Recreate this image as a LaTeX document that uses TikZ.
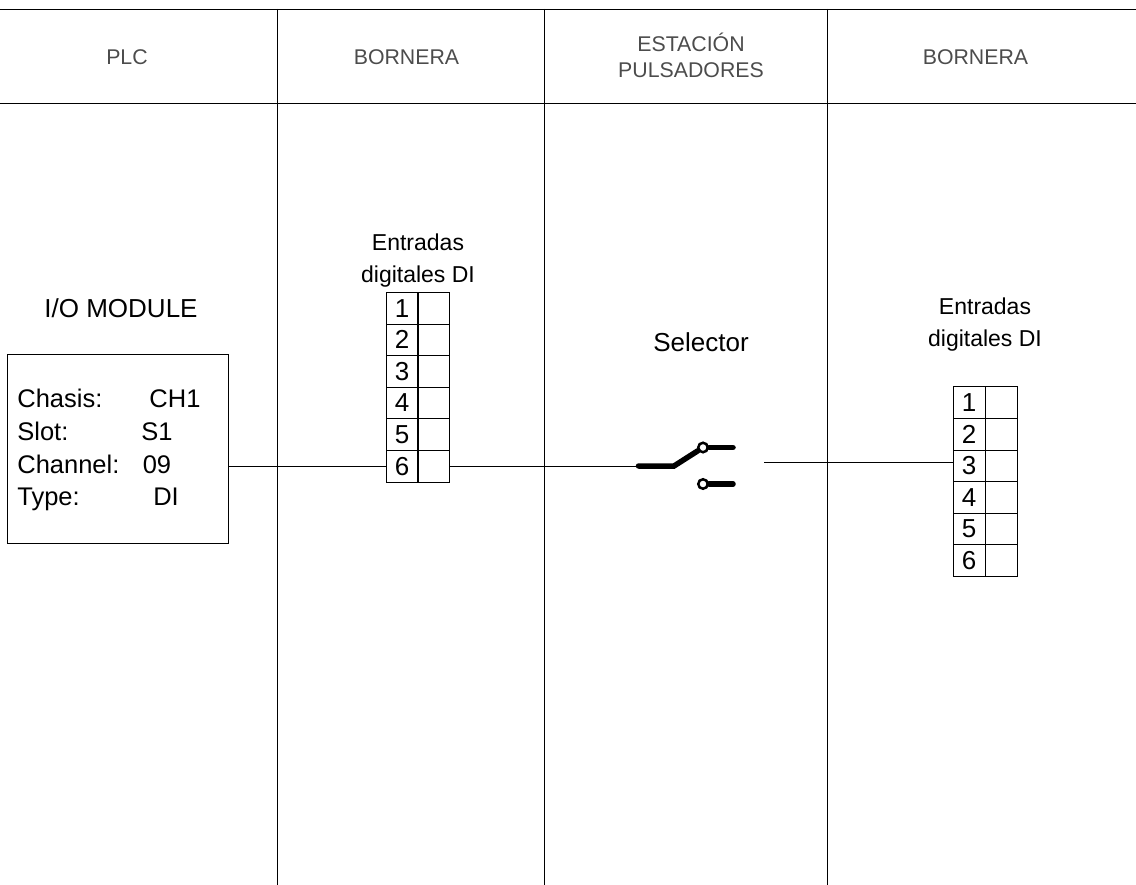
\documentclass[tikz,border=0pt]{standalone}
\usepackage{fontspec}
\setmainfont{Liberation Sans}
\begin{document}
\begin{tikzpicture}[x=1pt,y=-1pt,line width=0.75pt]
        \tikzstyle{header}=[font=\fontsize{21.3}{26}\selectfont, align=center, text=black!70]
        \tikzstyle{title}=[font=\fontsize{23}{32}\selectfont, align=center]
        \tikzstyle{bigtitle}=[font=\fontsize{26}{32}\selectfont, align=center]
        \tikzstyle{info}=[font=\fontsize{25.5}{28}\selectfont, inner sep=0pt]
        \tikzstyle{pin}=[draw, minimum width=32pt, minimum height=31.6pt, inner sep=0pt,
            font=\fontsize{26}{26}\selectfont]
        \tikzstyle{spare}=[draw, minimum width=32pt, minimum height=31.6pt, inner sep=0pt]
        \tikzstyle{contact}=[line width=5.5pt, line cap=round]
        \tikzstyle{tip}=[draw, circle, line width=2.5pt, fill=white, minimum size=9.5pt, inner sep=0pt]

        \useasboundingbox (0, 0) rectangle (1136, 885);

        \coordinate (hl) at (0, 9);
        \coordinate (hr) at (1136, 9);
        \coordinate (bl) at (0, 103);
        \coordinate (br) at (1136, 103);
        \draw (hl) to (hr);
        \draw (bl) to (br);

        \coordinate (c1t) at (277, 9);
        \coordinate (c1b) at (277, 885);
        \coordinate (c2t) at (544, 9);
        \coordinate (c2b) at (544, 885);
        \coordinate (c3t) at (827, 9);
        \coordinate (c3b) at (827, 885);
        \draw (c1t) to (c1b);
        \draw (c2t) to (c2b);
        \draw (c3t) to (c3b);

        \node[header] (plc) at (127, 57) {PLC};
        \node[header] (bor1) at (406.5, 57) {BORNERA};
        \node[header] (est) at (691, 55) {ESTACIÓN\\PULSADORES};
        \node[header] (bor2) at (975.5, 57) {BORNERA};

        \node[bigtitle] (iot) at (121, 308) {I/O MODULE};
        \node[draw, minimum width=221pt, minimum height=189pt, inner sep=0pt] (io) at (118, 449) {};
        \node[info, anchor=base west] (l1) at (17, 408) {Chasis:};
        \node[info, anchor=base west] (l2) at (17, 441) {Slot:};
        \node[info, anchor=base west] (l3) at (17, 473) {Channel:};
        \node[info, anchor=base west] (l4) at (17, 505) {Type:};
        \node[info, anchor=base] (v1) at (175, 408) {CH1};
        \node[info, anchor=base] (v2) at (157, 441) {S1};
        \node[info, anchor=base] (v3) at (157, 473) {09};
        \node[info, anchor=base] (v4) at (166, 505) {DI};

        \node[title] (ent1) at (418, 261) {Entradas\\digitales DI};
        \foreach \i in {1,...,6} {
            \node[pin] (a\i) at (402, 276.5+31.6*\i) {\i};
            \node[spare] (as\i) at (433.5, 276.5+31.6*\i) {};
        }

        \node[bigtitle] (sel) at (701, 342) {Selector};

        \node[title] (ent2) at (985, 325) {Entradas\\digitales DI};
        \foreach \i in {1,...,6} {
            \node[pin] (b\i) at (969, 371+31.6*\i) {\i};
            \node[spare] (bs\i) at (1001, 371+31.6*\i) {};
        }

        \coordinate (sw1) at (638.5, 466);
        \coordinate (sw2) at (674, 466);
        \node[tip] (up) at (703, 447.5) {};
        \node[tip] (dn) at (703, 484) {};
        \coordinate (upe) at (733, 447.5);
        \coordinate (dne) at (733, 484);
        \coordinate (out) at (764, 462);

        \draw (io.east |- a6) to (a6.west);
        \draw (as6.east) to (as6.east -| sw1);
        \draw[contact] (sw1) to (sw2) to (up);
        \draw[contact] (up) to (upe);
        \draw[contact] (dn) to (dne);
        \draw (out) to (out -| b3.west);
\end{tikzpicture}
\end{document}
